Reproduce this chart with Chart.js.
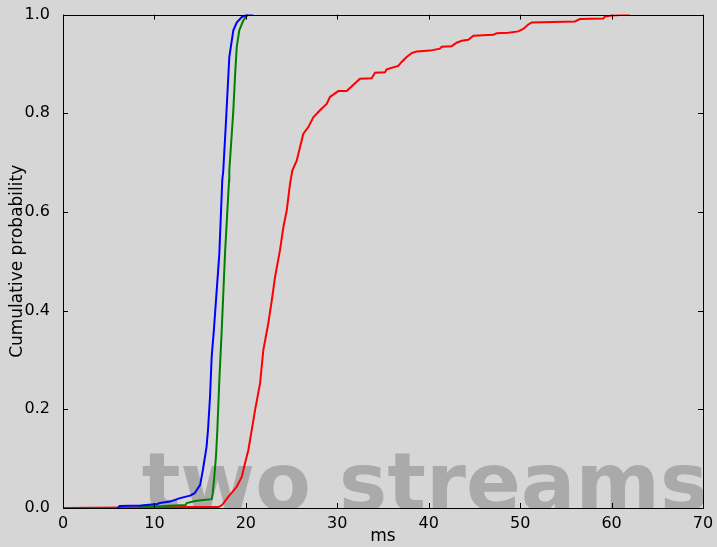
<!DOCTYPE html>
<html>
<head>
<meta charset="utf-8">
<script src="https://cdn.jsdelivr.net/npm/chart.js@4/dist/chart.umd.min.js"></script>
<style>
  html, body { margin: 0; padding: 0; background: #d6d6d6; }
  #wrap { width: 717px; height: 547px; }
</style>
</head>
<body>
<div id="wrap"><canvas id="c" width="717" height="547"></canvas></div>
<script>
// Empirical CDFs of latency (ms) for three runs
const blueMs   = [6.0, 6.2, 8.5, 10.3, 10.6, 11.7, 12.8, 13.9, 14.4, 15.0, 15.3, 15.7, 15.86, 16.08, 16.26, 16.5, 17.1, 17.42, 17.53, 17.83, 18.19, 18.63, 19.0, 19.55, 19.9, 20.8];
const blueProb = [0.0, 0.004, 0.005, 0.008, 0.01, 0.013, 0.02, 0.025, 0.03, 0.047, 0.077, 0.124, 0.158, 0.225, 0.306, 0.36, 0.516, 0.664, 0.684, 0.785, 0.914, 0.968, 0.984, 0.995, 0.998, 1.0];

const greenMs   = [8.2, 8.3, 11.0, 13.4, 13.53, 14.44, 15.35, 16.26, 16.37, 16.52, 16.73, 16.88, 17.1, 17.36, 17.72, 18.16, 18.19, 18.63, 18.81, 19.0, 19.28, 19.72, 20.09, 20.23];
const greenProb = [0.0, 0.003, 0.004, 0.006, 0.01, 0.014, 0.016, 0.018, 0.03, 0.057, 0.104, 0.158, 0.259, 0.36, 0.516, 0.664, 0.684, 0.806, 0.873, 0.934, 0.968, 0.988, 0.998, 1.0];

const redMs   = [0.0, 13.7, 17.0, 17.4, 18.1, 19.0, 19.55, 19.9, 20.27, 20.64, 21.0, 21.55, 21.91, 22.45, 22.83, 23.19, 23.73, 24.1, 24.47, 24.83, 25.08, 25.56, 25.92, 26.28, 26.83, 27.38, 28.11, 28.84, 29.2, 30.11, 31.03, 32.48, 33.76, 34.13, 35.22, 35.4, 36.67, 37.04, 37.59, 38.14, 38.69, 40.14, 41.23, 41.42, 42.51, 43.06, 43.61, 44.33, 44.88, 47.06, 47.43, 48.7, 49.8, 50.34, 50.89, 51.26, 55.99, 56.55, 59.09, 59.27, 60.0, 62.0];
const redProb = [0.0, 0.002, 0.002, 0.006, 0.023, 0.043, 0.063, 0.09, 0.117, 0.158, 0.198, 0.252, 0.32, 0.374, 0.42, 0.468, 0.522, 0.569, 0.603, 0.657, 0.684, 0.704, 0.731, 0.758, 0.772, 0.792, 0.806, 0.819, 0.833, 0.845, 0.845, 0.87, 0.871, 0.882, 0.883, 0.889, 0.896, 0.904, 0.914, 0.922, 0.925, 0.927, 0.931, 0.935, 0.936, 0.943, 0.947, 0.949, 0.957, 0.959, 0.962, 0.963, 0.966, 0.971, 0.98, 0.984, 0.986, 0.991, 0.992, 0.996, 0.998, 1.0];

const xTickValues = [0, 10, 20, 30, 40, 50, 60, 70];
const yTickValues = [0.0, 0.2, 0.4, 0.6, 0.8, 1.0];
const watermarkText = 'two streams';

const FONT = '"DejaVu Sans", sans-serif';

function points(xs, ys) { return xs.map((x, i) => ({ x: x, y: ys[i] })); }

function series(xs, ys, color) {
  return {
    data: points(xs, ys),
    borderColor: color,
    backgroundColor: color,
    borderWidth: 2,
    pointRadius: 0,
    showLine: true,
    tension: 0,
    fill: false
  };
}

// Large faint label behind the curves, clipped to the plot area
const watermark = {
  id: 'watermark',
  beforeDatasetsDraw(chart) {
    const { ctx, chartArea: a, scales } = chart;
    ctx.save();
    ctx.beginPath();
    ctx.rect(a.left, a.top, a.right - a.left, a.bottom - a.top);
    ctx.clip();
    ctx.font = 'bold 81px ' + FONT;
    ctx.fillStyle = '#aaaaaa';
    ctx.textBaseline = 'alphabetic';
    ctx.textAlign = 'left';
    ctx.fillText(watermarkText, scales.x.getPixelForValue(8.6), scales.y.getPixelForValue(0) + 2);
    ctx.restore();
  }
};

// Box frame with inward tick marks on all four sides
const frame = {
  id: 'frame',
  afterDatasetsDraw(chart) {
    const { ctx, chartArea: a, scales } = chart;
    const len = 5;
    ctx.save();
    ctx.strokeStyle = '#000000';
    ctx.lineWidth = 1;
    ctx.strokeRect(Math.round(a.left) + 0.5, Math.round(a.top) + 0.5,
                   Math.round(a.right - a.left), Math.round(a.bottom - a.top));
    ctx.beginPath();
    xTickValues.forEach(v => {
      const px = Math.round(scales.x.getPixelForValue(v)) + 0.5;
      ctx.moveTo(px, a.bottom); ctx.lineTo(px, a.bottom - len);
      ctx.moveTo(px, a.top); ctx.lineTo(px, a.top + len);
    });
    yTickValues.forEach(v => {
      const py = Math.round(scales.y.getPixelForValue(v)) + 0.5;
      ctx.moveTo(a.left, py); ctx.lineTo(a.left + len, py);
      ctx.moveTo(a.right, py); ctx.lineTo(a.right - len, py);
    });
    ctx.stroke();
    ctx.restore();
  }
};

new Chart(document.getElementById('c'), {
  type: 'scatter',
  data: {
    datasets: [
      series(blueMs, blueProb, '#0000ff'),
      series(greenMs, greenProb, '#008000'),
      series(redMs, redProb, '#ff0000')
    ]
  },
  options: {
    responsive: false,
    animation: false,
    devicePixelRatio: 1,
    layout: { padding: { top: 14, right: 14, left: 0, bottom: 0 } },
    plugins: {
      legend: { display: false },
      tooltip: { enabled: false }
    },
    scales: {
      x: {
        type: 'linear',
        min: 0, max: 70,
        afterBuildTicks(scale) { scale.ticks = xTickValues.map(v => ({ value: v })); },
        afterFit(scale) { scale.height = 39; },
        grid: { display: false },
        border: { display: false },
        ticks: {
          color: '#000000',
          font: { family: FONT, size: 16 },
          padding: -2,
          maxRotation: 0,
          callback: v => String(v)
        },
        title: {
          display: true,
          text: 'ms',
          color: '#000000',
          font: { family: FONT, size: 17 },
          padding: 0
        }
      },
      y: {
        type: 'linear',
        min: 0, max: 1,
        afterBuildTicks(scale) { scale.ticks = yTickValues.map(v => ({ value: v })); },
        afterFit(scale) { scale.width = 63; },
        grid: { display: false },
        border: { display: false },
        ticks: {
          color: '#000000',
          font: { family: FONT, size: 16 },
          padding: 5,
          callback: v => Number(v).toFixed(1)
        },
        title: {
          display: true,
          text: 'Cumulative probability',
          color: '#000000',
          font: { family: FONT, size: 17 },
          padding: 7
        }
      }
    }
  },
  plugins: [watermark, frame]
});
</script>
</body>
</html>
